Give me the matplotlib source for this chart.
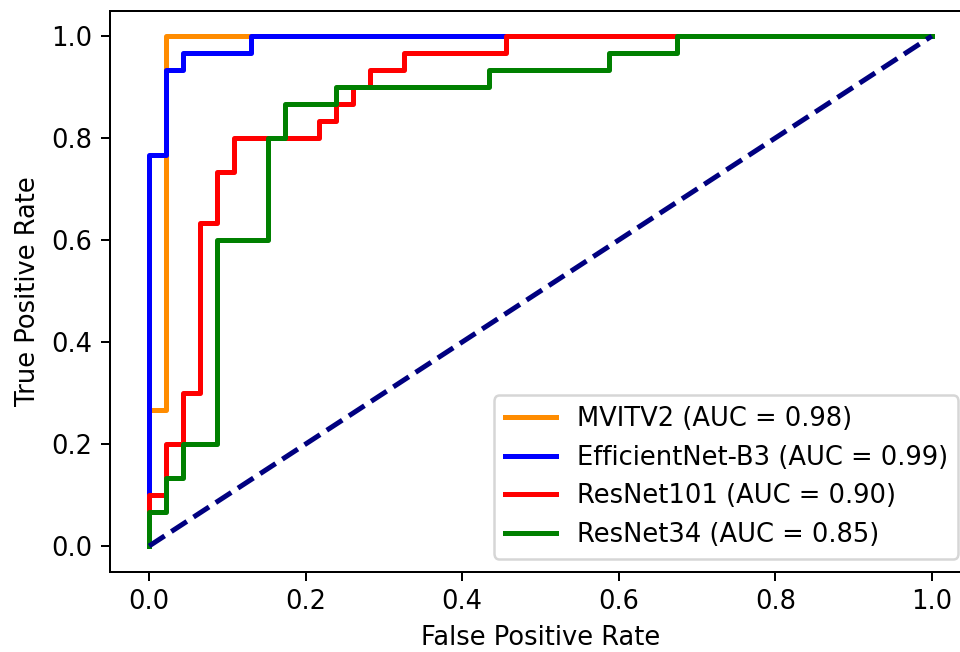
import matplotlib
matplotlib.use("Agg")
import matplotlib.pyplot as plt

# ROC curve data
mvitv2_fpr = [0.0, 0.0, 0.0217, 0.0217, 1.0]
mvitv2_tpr = [0.0, 0.2667, 0.2667, 1.0, 1.0]

effnet_fpr = [0.0, 0.0, 0.0217, 0.0217, 0.0435, 0.0435, 0.1304, 0.1304, 1.0]
effnet_tpr = [0.0, 0.7667, 0.7667, 0.9333, 0.9333, 0.9667, 0.9667, 1.0, 1.0]

resnet101_fpr = [0.0, 0.0, 0.0217, 0.0217, 0.0435, 0.0435, 0.0652, 0.0652, 0.0870, 0.0870,
                 0.1087, 0.1087, 0.2174, 0.2174, 0.2391, 0.2391, 0.2609, 0.2609, 0.2826, 0.2826,
                 0.3261, 0.3261, 0.4565, 0.4565, 1.0]
resnet101_tpr = [0.0, 0.1, 0.1, 0.2, 0.2, 0.3, 0.3, 0.6333, 0.6333, 0.7333,
                 0.7333, 0.8, 0.8, 0.8333, 0.8333, 0.8667, 0.8667, 0.9, 0.9, 0.9333,
                 0.9333, 0.9667, 0.9667, 1.0, 1.0]

resnet34_fpr = [0.0, 0.0, 0.0217, 0.0217, 0.0435, 0.0435, 0.0870, 0.0870, 0.1522, 0.1522,
                0.1739, 0.1739, 0.2391, 0.2391, 0.4348, 0.4348, 0.5870, 0.5870, 0.6739, 0.6739, 1.0]
resnet34_tpr = [0.0, 0.0667, 0.0667, 0.1333, 0.1333, 0.2, 0.2, 0.6, 0.6, 0.8,
                0.8, 0.8667, 0.8667, 0.9, 0.9, 0.9333, 0.9333, 0.9667, 0.9667, 1.0, 1.0]

labels = ["MVITV2 (AUC = 0.98)", "EfficientNet-B3 (AUC = 0.99)",
          "ResNet101 (AUC = 0.90)", "ResNet34 (AUC = 0.85)"]
colors = ["darkorange", "blue", "red", "green"]

plt.rcParams["font.size"] = 10.3

dpi = 180
fig = plt.figure(figsize=(960 / dpi, 652 / dpi), dpi=dpi)
ax = fig.add_axes([110 / 960, 80.5 / 652, 861 / 960, 561 / 652])

series = [(mvitv2_fpr, mvitv2_tpr), (effnet_fpr, effnet_tpr),
          (resnet101_fpr, resnet101_tpr), (resnet34_fpr, resnet34_tpr)]
for (f, t), lab, c in zip(series, labels, colors):
    ax.plot(f, t, color=c, lw=2, label=lab)

ax.plot([0, 1], [0, 1], color="navy", lw=2, linestyle="--")
ax.set_xlim(-0.05, 1.05)
ax.set_ylim(-0.05, 1.05)
ax.set_xticks([0.0, 0.2, 0.4, 0.6, 0.8, 1.0])
ax.set_yticks([0.0, 0.2, 0.4, 0.6, 0.8, 1.0])
ax.set_xlabel("False Positive Rate")
ax.set_ylabel("True Positive Rate")
ax.legend(loc="lower right")

fig.savefig("out.png", dpi=dpi)
